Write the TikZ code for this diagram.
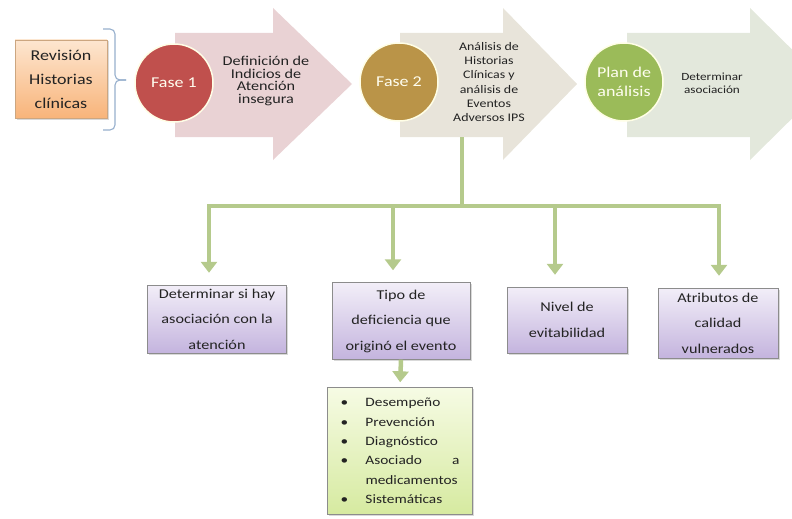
\documentclass[tikz,border=0pt]{standalone}
\usepackage{fontspec}
\setmainfont{Carlito}[FakeStretch=1.2]
\usepackage{xcolor}
\usetikzlibrary{arrows.meta,shadows}

\definecolor{arA}{RGB}{233,210,212}
\definecolor{arB}{RGB}{232,228,218}
\definecolor{arC}{RGB}{227,232,220}
\definecolor{faseA}{RGB}{192,80,77}
\definecolor{faseB}{RGB}{186,148,72}
\definecolor{faseC}{RGB}{155,187,89}
\definecolor{lnk}{RGB}{181,202,140}
\definecolor{purtop}{RGB}{242,238,248}
\definecolor{purbot}{RGB}{196,180,222}
\definecolor{lsttop}{RGB}{246,251,228}
\definecolor{lstbot}{RGB}{214,234,160}
\definecolor{revtop}{RGB}{253,230,208}
\definecolor{revbot}{RGB}{248,180,122}
\definecolor{brc}{RGB}{150,175,205}
\definecolor{txtc}{RGB}{35,35,35}

\begin{document}
\begin{tikzpicture}[x=1pt, y=-1pt,
    fase/.style={circle, draw=white!90!yellow, line width=1.5pt, minimum size=78pt, inner sep=0pt,
      text=white!94!yellow, align=center, font=\fontsize{15}{18}\selectfont},
    txt/.style={align=center, text=txtc},
    box/.style={draw=black!45, top color=purtop, bottom color=purbot, align=center, inner sep=1pt,
      text=txtc, font=\fontsize{13.5}{25.5}\selectfont,
      drop shadow={opacity=0.3, shadow xshift=1.5pt, shadow yshift=-1.5pt}},
    conn/.style={draw=lnk, line width=4.5pt},
    tip/.style={-{Triangle[width=16pt,length=11pt]}, shorten >=12pt}]
  \useasboundingbox (0,0) rectangle (792,519);

  % big process arrows
  \fill[arA] (175,33) -- (273,33) -- (273,8) -- (352,84) -- (273,160) -- (273,137) -- (175,137) -- cycle;
  \fill[arB] (400,33) -- (503,33) -- (503,8) -- (577,84) -- (503,160) -- (503,137) -- (400,137) -- cycle;
  \fill[arC] (627,33) -- (750,33) -- (750,8) -- (827,84) -- (750,160) -- (750,137) -- (627,137) -- cycle;

  % start box and brace
  \node[draw=orange!60!black!50, top color=revtop, bottom color=revbot, minimum width=92pt, minimum height=78pt,
    align=center, text=txtc, font=\fontsize{15}{24}\selectfont,
    drop shadow={opacity=0.3, shadow xshift=1.5pt, shadow yshift=-1.5pt}] (rev) at (61,79) {Revisión\\Historias\\clínicas};
  \draw[brc, line width=1.1pt, rounded corners=5pt] (103,29) -- (115,29) -- (115,80) -- (126,80);
  \draw[brc, line width=1.1pt, rounded corners=5pt] (103,130) -- (115,130) -- (115,80) -- (126,80);

  % phases
  \node[fase, fill=faseA] (f1) at (174,83) {Fase 1};
  \node[fase, fill=faseB] (f2) at (399,82) {Fase 2};
  \node[fase, fill=faseC, font=\fontsize{15}{19}\selectfont] (pl) at (624,82) {Plan de\\análisis};

  \node[txt, font=\fontsize{13.5}{12.8}\selectfont] (t1) at (266,81) {Definición de\\Indicios de\\Atención\\insegura};
  \node[txt, font=\fontsize{11.6}{14.2}\selectfont] (t2) at (489,82) {Análisis de\\Historias\\Clínicas y\\análisis de\\Eventos\\Adversos IPS};
  \node[txt, font=\fontsize{11}{13}\selectfont] (t3) at (712,83) {Determinar\\asociación};

  % result boxes
  \node[box, minimum width=139pt, minimum height=68pt] (b1) at (217,319) {Determinar si hay\\asociación con la\\atención};
  \node[box, minimum width=138pt, minimum height=77pt] (b2) at (401,321) {Tipo de\\deficiencia que\\originó el evento};
  \node[box, minimum width=120pt, minimum height=66pt] (b3) at (567,320) {Nivel de\\evitabilidad};
  \node[box, minimum width=120pt, minimum height=70pt] (b4) at (718,323) {Atributos de\\calidad\\vulnerados};

  \node[draw=black!45, top color=lsttop, bottom color=lstbot, text width=119pt, inner xsep=13pt,
    minimum height=127pt, align=left, text=txtc, font=\fontsize{12.8}{19.3}\selectfont,
    drop shadow={opacity=0.3, shadow xshift=1.5pt, shadow yshift=-1.5pt}] (lst) at (400,451)
    {\makebox[25pt][l]{\textbullet}Desempeño\\
     \makebox[25pt][l]{\textbullet}Prevención\\
     \makebox[25pt][l]{\textbullet}Diagnóstico\\
     \makebox[25pt][l]{\textbullet}Asociado\hfill a\\
     \hspace*{25pt}medicamentos\\
     \makebox[25pt][l]{\textbullet}Sistemáticas};

  % connectors
  \coordinate (tr) at (462,137);
  \coordinate (hub) at (462,206);
  \coordinate (d1) at (209,206);
  \coordinate (d2) at (393,206);
  \coordinate (d3) at (555,206);
  \coordinate (d4) at (719,206);
  \draw[conn] (tr) -- (hub);
  \draw[conn, tip] (hub) -- (d1) -- (d1 |- b1.north);
  \draw[conn, tip] (hub) -- (d4) -- (d4 |- b4.north);
  \draw[conn, tip] (d2) -- (d2 |- b2.north);
  \draw[conn, tip] (d3) -- (d3 |- b3.north);
  \draw[conn, tip, shorten >=5pt] (b2.south) -- (lst.north);
\end{tikzpicture}
\end{document}
